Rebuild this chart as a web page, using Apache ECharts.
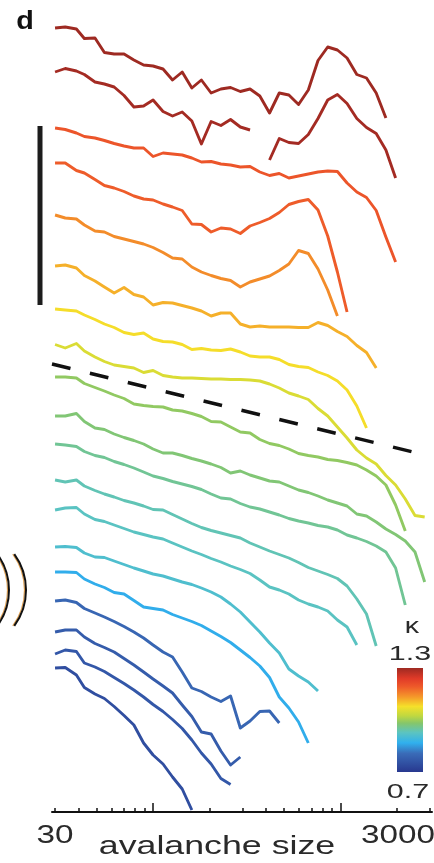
<!DOCTYPE html>
<html>
<head>
<meta charset="utf-8">
<script src="https://cdn.jsdelivr.net/npm/echarts@6.0.0/dist/echarts.min.js"></script>
<style>
  html, body { margin: 0; padding: 0; background: #fff; }
  #chart { width: 434px; height: 863px; }
</style>
</head>
<body>
<div id="chart"></div>
<script>
// avalanche size bins (log spaced)
var sizes = [30, 34, 39, 43, 49, 55, 62, 70, 79, 89, 100, 113, 127, 143, 161, 181, 204, 230, 259, 292,
  329, 371, 418, 471, 530, 597, 673, 758, 854, 962, 1083, 1221, 1375, 1549, 1745, 1966, 2214, 2495, 2810];

// kappa of each curve, top to bottom
var kappa = [1.30, 1.295, 1.20, 1.19, 1.145, 1.115, 1.08, 1.05, 0.99, 0.975, 0.955, 0.935, 0.925, 0.91, 0.865, 0.795, 0.775, 0.765, 0.745];

// shifted log-probability of each curve (stacked, downwards)
var curve01 = [28, 27, 29, 38.5, 38, 52.5, 54, 54, 60, 65, 66, 69, 80, 72, 88, 80, 93, 89, 87.5, 91.5, 89, 96, 113, 93, 95, 104.5, 90, 60.5, 47, 50, 58, 74.5, 78, 93, 118];
var curve02 = [72, 68.5, 71, 74.5, 82, 84, 87, 95.5, 107, 106, 100, 111.5, 116, 112, 121, 144, 121.5, 125.5, 119.5, 127, 130, null, 160, 138.5, 142.5, 143.5, 134.5, 118.5, 100, 94.5, 103.5, 118.5, 127.5, 133.5, 150, 178];
var curve03 = [128, 129.5, 133, 136.5, 138, 140.5, 143.5, 146, 148, 148, 156.5, 153, 154, 155, 158, 162, 161.5, 164, 165, 167, 166.5, 172, 175.5, 173.5, 178, 176, 174, 172, 171, 171.5, 183, 192, 197.5, 210.5, 237, 262];
var curve04 = [163, 163, 170.5, 173, 179.5, 185.5, 188, 191.5, 196, 199, 200, 204, 207, 210.5, 224, 224.5, 232, 228, 229, 233.5, 226, 222.5, 218.5, 212.5, 204.5, 201.5, 199.5, 210, 236, 272, 312];
var curve05 = [215, 218, 219, 225, 231, 232, 236.5, 239, 241.5, 244, 247.5, 252.5, 258, 259, 267, 272, 275.5, 278.5, 280.5, 287, 282, 279, 276, 270.5, 264, 250.5, 253.5, 269, 290, 316];
var curve06 = [266, 265, 268, 275.5, 281, 287, 293, 287.5, 294.5, 297, 305, 302.5, 303, 305.5, 308, 311, 316, 313, 313, 324, 327, 326, 327, 327, 327, 327.5, 327.5, 322.5, 325.5, 331.5, 336.5, 345.5, 352.5, 368];
var curve07 = [309, 310, 311, 315, 319.5, 324, 327.5, 332.5, 334.5, 333, 339, 341.5, 342, 344.5, 349.5, 348.5, 350, 350.5, 349, 352, 356, 357, 357, 359.5, 364.5, 366.5, 367.5, 372, 375.5, 381, 390, 406, 428];
var curve08 = [344.5, 348, 343.5, 351, 357, 361.5, 365, 366.5, 368, 372.5, 370.5, 375.5, 377, 378, 378, 378.5, 379, 379, 379.5, 379.5, 380, 381, 384, 388, 393, 396, 399.5, 408.5, 416, 427, 438, 450, 458, 464, 475.5, 485, 499, 515.5, 517];
var curve09 = [377, 377, 378, 383.5, 387.5, 391, 395, 398.5, 404, 405.5, 406.5, 407, 410, 411, 413.5, 416.5, 421.5, 422, 427, 432, 433, 439.5, 443.5, 445.5, 449, 453.5, 455.5, 457, 459.5, 460.5, 462.5, 465, 470, 476, 485, 505, 531];
var curve10 = [416, 416, 413.5, 421.5, 428, 429.5, 434, 437.5, 440.5, 444, 449, 453, 453, 455.5, 458.5, 461, 464, 467.5, 473, 471, 475, 478, 481, 482, 486, 490, 492.5, 496, 500, 503, 506, 514, 516, 522, 529, 534.5, 541, 552, 582];
var curve11 = [444, 445, 446.5, 451.5, 455.5, 457.5, 461.5, 464.5, 468, 472, 476, 478.5, 481.5, 484, 486.5, 489.5, 494, 498, 499, 503.5, 507, 509, 512, 515, 518.5, 521, 523, 525.5, 527, 530, 535, 538, 541.5, 546, 552, 568, 605];
var curve12 = [480, 482, 480, 486, 490.5, 494, 497, 500.5, 503, 506, 509.5, 510, 514.5, 519, 523.5, 527.5, 530.5, 533, 535.5, 538, 543, 547, 551, 554.5, 558, 562.5, 567.5, 571, 574.5, 578.5, 586, 599, 614, 646];
var curve13 = [510, 508, 507.5, 514, 519.5, 521.5, 525, 528.5, 532, 534.5, 537, 539, 543, 547, 551, 554.5, 558.5, 562, 566, 569.5, 573.5, 580, 587, 590, 594, 600, 604, 607, 611, 620, 627, 645];
var curve14 = [547, 546.5, 547.5, 553, 557, 557.5, 561, 564.5, 568, 571, 574, 576, 579, 582, 584.5, 588, 592, 597, 604, 612, 622, 632, 643, 653, 669, 676, 682, 691];
var curve15 = [572, 572, 572.5, 579, 584, 587.5, 592.5, 594, 600.5, 607, 608.5, 610, 614.5, 618, 621.5, 625.5, 631, 636.5, 642.5, 650, 657.5, 666, 677.5, 697, 708, 722, 743];
var curve16 = [601, 600, 602.5, 608.5, 613, 617, 621.5, 626.5, 632, 638, 645, 652, 657, 672, 688, 691.5, 697, 701.5, 696, 728, 721, 711.5, 711, 723];
var curve17 = [632, 630, 630, 637, 643.5, 647.5, 652, 658.5, 665, 672, 679, 686, 693, 705, 716.5, 732, 734, 751, 765, 757];
var curve18 = [654, 650, 651.5, 663, 667, 671.5, 677.5, 683.5, 690, 697, 704.5, 711.5, 719.5, 728.5, 740, 753, 764, 778.5, 784.5];
var curve19 = [668, 667.5, 675, 687.5, 694, 698.5, 706.5, 715.5, 725, 743, 755, 764, 777, 789, 810];

var curves = [curve01, curve02, curve03, curve04, curve05, curve06, curve07, curve08, curve09, curve10,
  curve11, curve12, curve13, curve14, curve15, curve16, curve17, curve18, curve19];

// dashed reference line
var dashSizes = [28.9, 2430];
var dashY = [364, 452];

// axis ticks and labels
var minorTicks = [30, 40, 50, 60, 70, 80, 90, 200, 300, 400, 500, 600, 700, 800, 900, 2000, 3000];
var majorTicks = [100, 1000];
var tickLabels = [30, 3000];
var xMin = 28.9, xMax = 3074;
var kappaMin = 0.7, kappaMax = 1.3;

// jet-like colour map, 0 = kappa max (top of bar)
var cmapPos = [0, 0.1, 0.18, 0.28, 0.37, 0.46, 0.53, 0.62, 0.72, 0.82, 1];
var cmapCol = ['#9e2a22', '#e03a28', '#ee5a2a', '#f59a2a', '#f5e02a', '#c0d840', '#86c66a', '#5cc4c0', '#30b0ee', '#3a6cb8', '#28388f'];

function hexRgb(h) {
  return [parseInt(h.substr(1, 2), 16), parseInt(h.substr(3, 2), 16), parseInt(h.substr(5, 2), 16)];
}

function kappaColor(k) {
  var f = (kappaMax - k) / (kappaMax - kappaMin);
  f = Math.max(0, Math.min(1, f));
  for (var i = 1; i < cmapPos.length; i++) {
    if (f <= cmapPos[i]) {
      var t = (f - cmapPos[i - 1]) / (cmapPos[i] - cmapPos[i - 1]);
      var a = hexRgb(cmapCol[i - 1]), b = hexRgb(cmapCol[i]);
      var c = a.map(function (v, j) { return Math.round(v + (b[j] - v) * t); });
      return 'rgb(' + c.join(',') + ')';
    }
  }
  return cmapCol[cmapCol.length - 1];
}

var lg = Math.log10;
var font = '"Liberation Sans", Arial, sans-serif';

var series = curves.map(function (ys, i) {
  return {
    type: 'line',
    xAxisIndex: 0,
    yAxisIndex: 0,
    symbol: 'none',
    silent: true,
    data: ys.map(function (y, j) {
      return [lg(sizes[j]), y === null ? '-' : y];
    }),
    lineStyle: { color: kappaColor(kappa[i]), width: 2.9, join: 'round' }
  };
});

series.push({
  type: 'line',
  xAxisIndex: 0,
  yAxisIndex: 0,
  symbol: 'none',
  silent: true,
  z: 5,
  data: dashSizes.map(function (s, i) { return [lg(s), dashY[i]]; }),
  lineStyle: { color: '#111', width: 3.5, type: [19, 20] }
});

var chart = echarts.init(document.getElementById('chart'), null, { renderer: 'canvas' });

var gridBox = { left: 52, right: 2, top: 0, bottom: 51 };

chart.setOption({
  animation: false,
  backgroundColor: '#fff',
  grid: [gridBox, gridBox],
  xAxis: [{
    type: 'value',
    gridIndex: 0,
    position: 'bottom',
    min: lg(xMin),
    max: lg(xMax),
    axisLine: { show: true, onZero: false, lineStyle: { color: '#111', width: 2 } },
    axisTick: { show: true, inside: true, length: 4, customValues: minorTicks.map(lg), lineStyle: { color: '#111', width: 1.5 } },
    axisLabel: { show: false },
    splitLine: { show: false }
  }, {
    type: 'value',
    gridIndex: 1,
    position: 'bottom',
    min: lg(xMin),
    max: lg(xMax),
    axisLine: { show: false, onZero: false },
    axisTick: { show: true, inside: true, length: 9, customValues: majorTicks.map(lg), lineStyle: { color: '#111', width: 1.5 } },
    axisLabel: { show: false },
    splitLine: { show: false }
  }],
  yAxis: [{
    type: 'value',
    gridIndex: 0,
    min: 0,
    max: 812,
    inverse: true,
    show: false
  }, {
    type: 'value',
    gridIndex: 1,
    min: 0,
    max: 1,
    show: false
  }],
  series: series
});

function txt(str, x, y, size, sx, opts) {
  opts = opts || {};
  return {
    type: 'text',
    x: x,
    y: y,
    scaleX: sx,
    silent: true,
    z: 10,
    style: {
      text: str,
      font: (opts.weight || 'normal') + ' ' + size + 'px ' + font,
      fill: opts.color || '#2a2a2a',
      textAlign: opts.align || 'center',
      align: opts.align || 'center',
      textVerticalAlign: 'middle',
      verticalAlign: 'middle'
    }
  };
}

var graphics = [];

// tick labels at the axis positions
tickLabels.forEach(function (v, i) {
  var px = chart.convertToPixel({ xAxisIndex: 0 }, lg(v));
  if (i === tickLabels.length - 1) {
    graphics.push(txt(String(v), Math.min(px + 5, 435), 836, 25, 1.33, { align: 'right' }));
  } else {
    graphics.push(txt(String(v), px, 836, 25, 1.33));
  }
});
graphics.push(txt('avalanche size', 217, 847, 25, 1.43));
graphics.push(txt('d', 25, 22, 25, 1.15, { weight: 'bold', color: '#111' }));

// vertical scale bar
graphics.push({
  type: 'rect', silent: true,
  shape: { x: 37.5, y: 126, width: 5, height: 179 },
  style: { fill: '#1c1c1c' }
});

// colour bar
var stops = cmapPos.map(function (p, i) { return { offset: p, color: cmapCol[i] }; });
graphics.push({
  type: 'rect', silent: true,
  shape: { x: 397, y: 668, width: 26, height: 104 },
  style: { fill: new echarts.graphic.LinearGradient(0, 0, 0, 1, stops) }
});
graphics.push(txt('\u03ba', 412, 627, 22, 1.3));
graphics.push(txt(String(kappaMax.toFixed(1)), 410, 654, 21, 1.45));
graphics.push(txt(String(kappaMin.toFixed(1)), 408, 792, 21, 1.45));

// fragments of the neighbouring panel on the left edge
[{ cx: -52, r: 61 }, { cx: -35, r: 61 }].forEach(function (a) {
  graphics.push({
    type: 'arc', silent: true,
    shape: { cx: a.cx - 1.5, cy: 590, r: a.r, startAngle: -0.63, endAngle: 0.63 },
    style: { stroke: '#e0a050', lineWidth: 1.2, fill: null }
  });
  graphics.push({
    type: 'arc', silent: true,
    shape: { cx: a.cx, cy: 590, r: a.r, startAngle: -0.63, endAngle: 0.63 },
    style: { stroke: '#111', lineWidth: 2, fill: null }
  });
});

chart.setOption({ graphic: graphics });
</script>
</body>
</html>
